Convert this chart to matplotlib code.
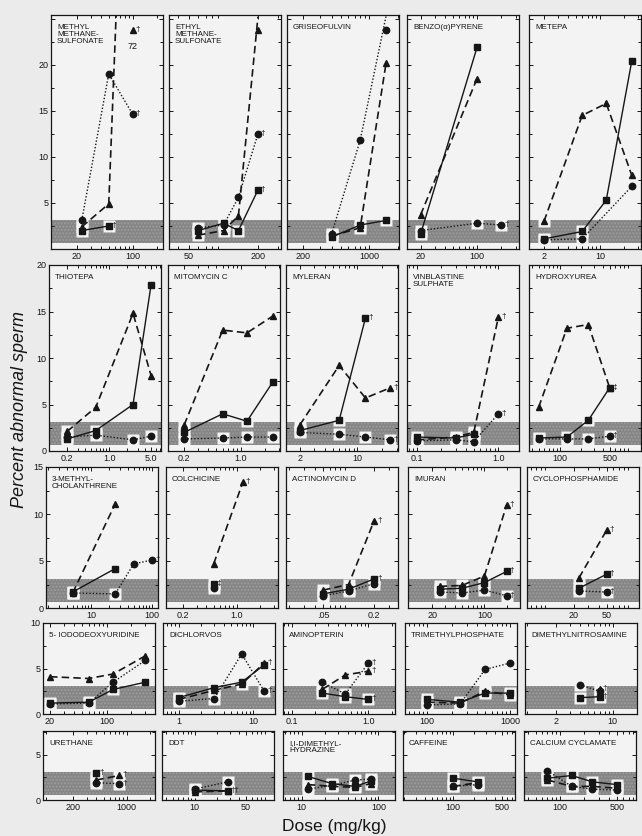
import matplotlib.pyplot as plt
from matplotlib.ticker import FixedLocator, NullFormatter

plt.rcParams['font.family'] = ['Liberation Sans', 'DejaVu Sans']

# ---- data (percent abnormal sperm vs dose, mg/kg) ----
# tri = dashed/triangles, cir = dotted/circles, sq = solid/squares

# row 1
MMS_DOSE = [23, 50, 100]
MMS_TRI = [2.4, 4.9, 72]
MMS_CIR = [3.1, 19.0, 14.6]
MMS_SQ = [2.0, 2.5, None]
MMS_DAG = [('tri', 2, '†'), ('cir', 2, '†'), ('sq', 1, '†')]

EMS_DOSE = [60, 100, 135, 200]
EMS_TRI = [1.5, 2.0, 3.6, 25.2]
EMS_CIR = [2.3, 2.6, 5.6, 12.5]
EMS_SQ = [2.0, 2.8, 2.0, 6.4]
EMS_DAG = [('cir', 3, '†'), ('sq', 3, '†')]

GRI_DOSE = [400, 800, 1500]
GRI_TRI = [1.4, 2.3, 20.2]
GRI_CIR = [1.6, 11.8, 25.3]
GRI_SQ = [1.3, 2.6, 3.1]
GRI_DAG = []

BAP_DOSE = [20, 100, 200]
BAP_TRI = [3.7, 18.5, None]
BAP_CIR = [2.0, 2.8, 2.6]
BAP_SQ = [1.6, 21.9, None]
BAP_DAG = [('cir', 2, '†')]

MET_DOSE = [2, 6, 12, 25]
MET_TRI = [3.0, 14.5, 15.8, 8.0]
MET_CIR = [1.0, 1.1, None, 6.8]
MET_SQ = [1.1, 1.9, 5.3, 20.4]
MET_DAG = []

# row 2
THI_DOSE = [0.2, 0.6, 2.5, 5.0]
THI_TRI = [2.1, 4.7, 14.8, 8.1]
THI_CIR = [1.5, 1.7, 1.2, 1.6]
THI_SQ = [1.3, 2.2, 5.0, 17.9]
THI_DAG = []

MMC_DOSE = [0.2, 0.6, 1.2, 2.5]
MMC_TRI = [2.8, 13.0, 12.7, 14.5]
MMC_CIR = [1.3, 1.4, 1.5, 1.5]
MMC_SQ = [2.0, 4.0, 3.2, 7.4]
MMC_DAG = []

MYL_DOSE = [2, 6, 12.5, 25]
MYL_TRI = [2.8, 9.2, 5.7, 6.8]
MYL_CIR = [2.0, 1.8, 1.5, 1.2]
MYL_SQ = [2.2, 3.3, 14.3, None]
MYL_DAG = [('sq', 2, '†'), ('tri', 3, '†'), ('cir', 3, '†')]

VIN_DOSE = [0.1, 0.3, 0.5, 1.0]
VIN_TRI = [1.2, 1.5, 2.0, 14.4]
VIN_CIR = [1.1, 1.2, 1.0, 4.0]
VIN_SQ = [1.5, 1.4, 1.8, None]
VIN_DAG = [('tri', 3, '†'), ('cir', 3, '†')]

HYD_DOSE = [50, 125, 250, 500]
HYD_TRI = [4.7, 13.2, 13.6, 6.8]
HYD_CIR = [1.3, 1.3, 1.3, 1.6]
HYD_SQ = [1.4, 1.5, 3.3, 6.8]
HYD_DAG = [('sq', 3, '‡'), ('cir', 3, '†')]

# row 3
MC_DOSE = [5, 25, 50, 100]
MC_TRI = [1.6, 11.1, None, None]
MC_CIR = [1.6, 1.5, 4.7, 5.1]
MC_SQ = [1.7, 4.2, None, None]
MC_DAG = [('cir', 3, '†')]

COL_DOSE = [0.5, 1.2]
COL_TRI = [4.7, 13.4]
COL_CIR = [2.1, None]
COL_SQ = [2.6, None]
COL_DAG = [('tri', 1, '†'), ('sq', 0, '‡')]

ACT_DOSE = [0.05, 0.1, 0.2]
ACT_TRI = [1.9, 2.5, 9.3]
ACT_CIR = [1.3, 1.8, 2.6]
ACT_SQ = [1.5, 2.0, 3.1]
ACT_DAG = [('tri', 2, '†'), ('sq', 2, '†')]

IMU_DOSE = [25, 50, 100, 200]
IMU_TRI = [2.3, 2.4, 3.4, 11.0]
IMU_CIR = [1.7, 1.6, 1.9, 1.3]
IMU_SQ = [2.0, 2.1, 2.7, 3.9]
IMU_DAG = [('tri', 3, '†'), ('sq', 3, '†'), ('cir', 3, '†')]

CYC_DOSE = [23, 50]
CYC_TRI = [3.2, 8.3]
CYC_CIR = [1.8, 1.7]
CYC_SQ = [2.1, 3.6]
CYC_DAG = [('tri', 1, '†'), ('sq', 1, '†'), ('cir', 1, '†')]

# row 4
IUD_DOSE = [20, 60, 120, 300]
IUD_TRI = [4.1, 3.9, 4.4, 6.4]
IUD_CIR = [1.1, 1.2, 3.5, 5.9]
IUD_SQ = [1.2, 1.3, 2.7, 3.5]
IUD_DAG = []

DIC_DOSE = [1, 3, 7, 14]
DIC_TRI = [1.6, 2.6, 3.3, 5.6]
DIC_CIR = [1.4, 1.7, 6.6, 2.5]
DIC_SQ = [1.8, 2.9, 3.5, 5.4]
DIC_DAG = [('tri', 3, '†'), ('cir', 3, '†')]

AMI_DOSE = [0.25, 0.5, 1.0]
AMI_TRI = [2.7, 4.3, 4.7]
AMI_CIR = [3.5, 2.2, 5.6]
AMI_SQ = [2.3, 1.9, 1.6]
AMI_DAG = [('tri', 2, '†'), ('cir', 2, '†'), ('sq', 2, '†')]

TMP_DOSE = [100, 250, 500, 1000]
TMP_TRI = [1.3, 1.2, 2.5, 2.1]
TMP_CIR = [1.0, 1.1, 4.9, 5.6]
TMP_SQ = [1.6, 1.3, 2.3, 2.3]
TMP_DAG = []

DMN_DOSE = [4, 7]
DMN_TRI = [None, 2.8]
DMN_CIR = [3.2, 2.5]
DMN_SQ = [1.8, 1.9]
DMN_DAG = [('tri', 1, '†'), ('sq', 1, '†')]

# row 5
URE_DOSE = [400, 800]
URE_TRI = [2.2, 2.7]
URE_CIR = [1.9, 1.8]
URE_SQ = [3.0, None]
URE_DAG = [('sq', 0, '†'), ('tri', 1, '†'), ('cir', 1, '†')]

DDT_DOSE = [10, 28]
DDT_TRI = [0.9, 1.0]
DDT_CIR = [1.2, 2.0]
DDT_SQ = [1.1, 1.0]
DDT_DAG = [('sq', 1, '††')]

UDM_DOSE = [12, 25, 50, 80]
UDM_TRI = [1.7, 1.5, 1.4, 1.8]
UDM_CIR = [1.2, 1.6, 2.2, 2.3]
UDM_SQ = [2.6, 1.8, 1.5, 2.1]
UDM_DAG = []

CAF_DOSE = [100, 225]
CAF_TRI = [1.5, 1.9]
CAF_CIR = [1.5, 1.7]
CAF_SQ = [2.4, 2.0]
CAF_DAG = []

CYL_DOSE = [70, 140, 250, 500]
CYL_TRI = [2.2, 1.5, 1.5, 1.3]
CYL_CIR = [3.2, 1.5, 1.2, 1.1]
CYL_SQ = [2.4, 2.7, 2.0, 1.7]
CYL_DAG = []

PANELS = [
    [("METHYL\nMETHANE-\nSULFONATE", MMS_DOSE, MMS_TRI, MMS_CIR, MMS_SQ, MMS_DAG, [20, 100], ['20', '100'], (9.5, 238)),
     ("ETHYL\nMETHANE-\nSULFONATE", EMS_DOSE, EMS_TRI, EMS_CIR, EMS_SQ, EMS_DAG, [50, 200], ['50', '200'], (33.4, 318)),
     ("GRISEOFULVIN", GRI_DOSE, GRI_TRI, GRI_CIR, GRI_SQ, GRI_DAG, [200, 1000], ['200', '1000'], (136, 2050)),
     ("BENZO(α)PYRENE", BAP_DOSE, BAP_TRI, BAP_CIR, BAP_SQ, BAP_DAG, [20, 100], ['20', '100'], (13.6, 330)),
     ("METEPA", MET_DOSE, MET_TRI, MET_CIR, MET_SQ, MET_DAG, [2, 10], ['2', '10'], (1.3, 32.6))],
    [("THIOTEPA", THI_DOSE, THI_TRI, THI_CIR, THI_SQ, THI_DAG, [0.2, 1.0, 5.0], ['0.2', '1.0', '5.0'], (0.1, 7.3)),
     ("MITOMYCIN C", MMC_DOSE, MMC_TRI, MMC_CIR, MMC_SQ, MMC_DAG, [0.2, 1.0], ['0.2', '1.0'], (0.126, 3.08)),
     ("MYLERAN", MYL_DOSE, MYL_TRI, MYL_CIR, MYL_SQ, MYL_DAG, [2, 10], ['2', '10'], (1.36, 31)),
     ("VINBLASTINE\nSULPHATE", VIN_DOSE, VIN_TRI, VIN_CIR, VIN_SQ, VIN_DAG, [0.1, 1.0], ['0.1', '1.0'], (0.076, 1.79)),
     ("HYDROXYUREA", HYD_DOSE, HYD_TRI, HYD_CIR, HYD_SQ, HYD_DAG, [100, 500], ['100', '500'], (36.6, 1380))],
    [("3-METHYL-\nCHOLANTHRENE", MC_DOSE, MC_TRI, MC_CIR, MC_SQ, MC_DAG, [10, 100], ['10', '100'], (1.83, 125)),
     ("COLCHICINE", COL_DOSE, COL_TRI, COL_CIR, COL_SQ, COL_DAG, [0.2, 1.0], ['0.2', '1.0'], (0.12, 3.43)),
     ("ACTINOMYCIN D", ACT_DOSE, ACT_TRI, ACT_CIR, ACT_SQ, ACT_DAG, [0.05, 0.2], ['.05', '0.2'], (0.0184, 0.381)),
     ("IMURAN", IMU_DOSE, IMU_TRI, IMU_CIR, IMU_SQ, IMU_DAG, [20, 100], ['20', '100'], (9.4, 301)),
     ("CYCLOPHOSPHAMIDE", CYC_DOSE, CYC_TRI, CYC_CIR, CYC_SQ, CYC_DAG, [20, 50], ['20', '50'], (5.4, 123))],
    [("5- IODODEOXYURIDINE", IUD_DOSE, IUD_TRI, IUD_CIR, IUD_SQ, IUD_DAG, [20, 100], ['20', '100'], (16.4, 393)),
     ("DICHLORVOS", DIC_DOSE, DIC_TRI, DIC_CIR, DIC_SQ, DIC_DAG, [1, 10], ['1', '10'], (0.62, 19.5)),
     ("AMINOPTERIN", AMI_DOSE, AMI_TRI, AMI_CIR, AMI_SQ, AMI_DAG, [0.1, 1.0], ['0.1', '1.0'], (0.077, 2.22)),
     ("TRIMETHYLPHOSPHATE", TMP_DOSE, TMP_TRI, TMP_CIR, TMP_SQ, TMP_DAG, [100, 1000], ['100', '1000'], (54, 1214)),
     ("DIMETHYLNITROSAMINE", DMN_DOSE, DMN_TRI, DMN_CIR, DMN_SQ, DMN_DAG, [2, 10], ['2', '10'], (0.84, 20))],
    [("URETHANE", URE_DOSE, URE_TRI, URE_CIR, URE_SQ, URE_DAG, [200, 1000], ['200', '1000'], (81.5, 2324)),
     ("DDT", DDT_DOSE, DDT_TRI, DDT_CIR, DDT_SQ, DDT_DAG, [10, 50], ['10', '50'], (3.58, 120)),
     ("I,I-DIMETHYL-\nHYDRAZINE", UDM_DOSE, UDM_TRI, UDM_CIR, UDM_SQ, UDM_DAG, [10, 100], ['10', '100'], (5.7, 165)),
     ("CAFFEINE", CAF_DOSE, CAF_TRI, CAF_CIR, CAF_SQ, CAF_DAG, [100, 500], ['100', '500'], (19.3, 769)),
     ("CALCIUM CYCLAMATE", CYL_DOSE, CYL_TRI, CYL_CIR, CYL_SQ, CYL_DAG, [100, 500], ['100', '500'], (36, 865))],
]

# ---- layout (pixels) ----
W, H = 642, 836
ROW_TOP = [15, 265, 467, 623, 731]
ROW_BOT = [249, 451, 608, 714, 800]
ROW_YMAX = [25.4, 20, 15, 10, 7.6]
COL_LEFT = [[51, 169, 287, 407, 529],
            [49, 168, 286, 407, 529],
            [46, 166, 286, 408, 527],
            [43, 163, 283, 405, 525],
            [43, 162, 283, 403, 524]]
PW = 112
BG = '#ebebeb'
AX_BG = '#f3f3f3'
INK = '#161616'

fig = plt.figure(figsize=(W / 100, H / 100), dpi=100, facecolor=BG)

STYLES = {
    'tri': dict(marker='^', ls=(0, (4.5, 2.5)), lw=1.2, ms=4.8),
    'cir': dict(marker='o', ls=(0, (1, 1.4)), lw=1.0, ms=4.6),
    'sq': dict(marker='s', ls='-', lw=1.0, ms=4.4),
}

for r, row in enumerate(PANELS):
    top, bot, ymax = ROW_TOP[r], ROW_BOT[r], ROW_YMAX[r]
    for c, (title, dose, tri, cir, sq, dags, xt, xtl, xlim) in enumerate(row):
        left = COL_LEFT[r][c]
        ax = fig.add_axes([left / W, 1 - bot / H, PW / W, (bot - top) / H])
        ax.set_facecolor(AX_BG)
        ax.set_xscale('log')
        ax.set_xlim(*xlim)
        ax.set_ylim(0, ymax)

        # control range band
        ax.axhspan(0.6, 3.1, facecolor='#858585', edgecolor='#9c9c9c',
                   hatch='.....', lw=0, zorder=1)

        series = {'tri': tri, 'cir': cir, 'sq': sq}
        marker_pos = {}
        for key, vals in series.items():
            xs = [d for d, v in zip(dose, vals) if v is not None]
            ys = [v for v in vals if v is not None]
            st = STYLES[key]
            ax.plot(xs, ys, color=INK, ls=st['ls'], lw=st['lw'], zorder=4)
            for i, (d, v) in enumerate(zip(dose, vals)):
                if v is None:
                    continue
                ym = v if v <= ymax - 0.3 else ymax - 1.6
                marker_pos[(key, i)] = (d, ym)
                if v < 3.5:
                    ax.plot(d, v, 's', ms=8.5, color=AX_BG, mec='none', zorder=2)
                ax.plot(d, ym, st['marker'], ms=st['ms'], color=INK, zorder=5,
                        clip_on=False)
                if v > ymax:
                    ax.text(d, ym - 1.3, str(int(v)), fontsize=6.5, ha='center',
                            va='top', color=INK)

        for key, i, sym in dags:
            d, ym = marker_pos[(key, i)]
            ax.annotate(sym, (d, ym), xytext=(3, 0.5), textcoords='offset pixels',
                        fontsize=6, va='center', ha='left', color=INK, zorder=6)

        ax.annotate(title, (0, 1), xycoords='axes fraction', xytext=(6, -9),
                    textcoords='offset pixels', fontsize=5.8, va='top',
                    ha='left', linespacing=1.0, color=INK)

        # ticks
        ax.xaxis.set_major_locator(FixedLocator(xt))
        ax.set_xticklabels(xtl)
        ax.xaxis.set_minor_formatter(NullFormatter())
        ax.set_yticks(list(range(0, int(ymax) + 1, 5)))
        ax.set_yticks([v * 2.5 for v in range(int(ymax / 2.5) + 1)], minor=True)
        if c == 0:
            labels = [str(v) for v in range(0, int(ymax) + 1, 5)]
            if r == 0:
                labels[0] = ''
                labels[-1] = ''
            ax.set_yticklabels(labels)
        else:
            ax.set_yticklabels([])
        ax.tick_params(which='both', direction='in', top=True, right=True,
                       labelsize=6.5, pad=2, color=INK, labelcolor=INK,
                       width=0.7)
        ax.tick_params(which='major', length=3)
        ax.tick_params(which='minor', length=2)
        for s in ax.spines.values():
            s.set_color(INK)
            s.set_linewidth(0.9)

fig.text(20 / W, 1 - 409 / H, 'Percent abnormal sperm', rotation=90,
         style='italic', fontsize=13, ha='center', va='center', color=INK)
fig.text(334 / W, 1 - 826 / H, 'Dose (mg/kg)', fontsize=12.5,
         ha='center', va='center', color=INK)

fig.savefig('out.png', dpi=100, facecolor=BG)
